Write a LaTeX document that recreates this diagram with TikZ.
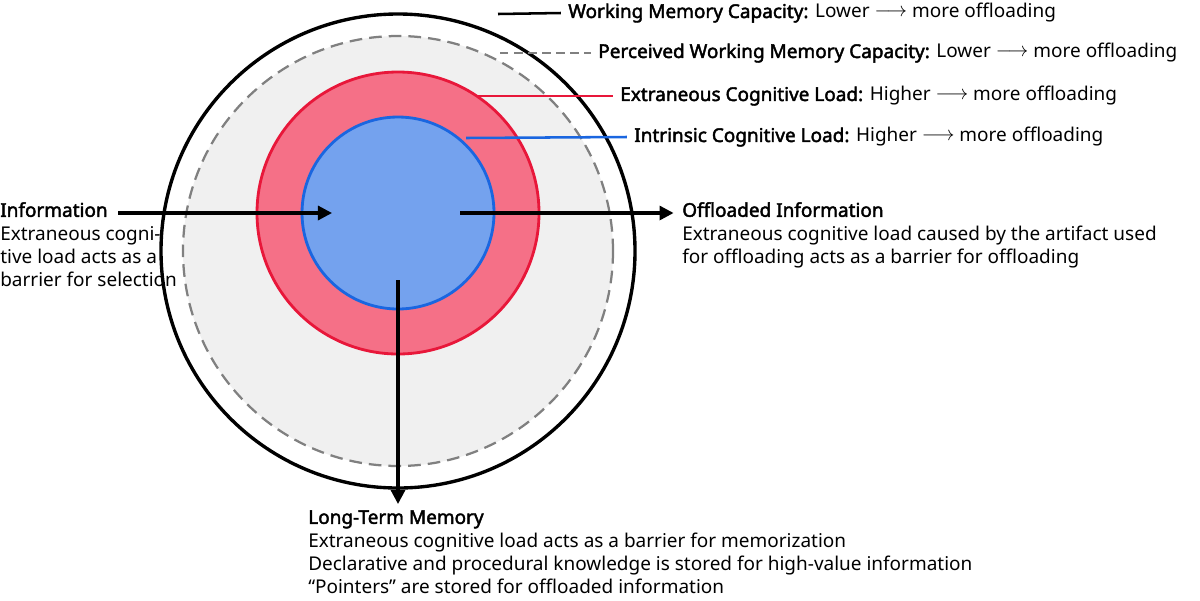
\documentclass[tikz,border=0pt]{standalone}
\usepackage{fontspec}
\setmainfont{Noto Sans}[AutoFakeBold=2.2]
\usetikzlibrary{arrows.meta}
\definecolor{lg}{HTML}{F0F0F0}
\definecolor{rf}{HTML}{F57087}
\definecolor{rs}{HTML}{E8173A}
\definecolor{bf}{HTML}{74A2EE}
\definecolor{bs}{HTML}{1A66E0}
\newcommand{\myarr}{\raisebox{0.1ex}{$\longrightarrow$}}
\begin{document}
\begin{tikzpicture}[x=0.025cm,y=-0.025cm,
  lbl/.style={anchor=west,inner sep=0pt,font=\fontsize{13.5}{16.5}\selectfont},
  blk/.style={anchor=north west,inner sep=0pt,align=left,font=\fontsize{13.5}{16.5}\selectfont},
  arr/.style={line width=2.2pt,-{Triangle[length=10pt,width=10pt]}},
  lead/.style={line width=1.8pt}]
\useasboundingbox (0,0) rectangle (1200,600);
\fill[white] (0,0) rectangle (1200,600);
\draw[line width=2.4pt,fill=white] (398,251) circle (237);
\draw[line width=1.6pt,gray,dash pattern=on 9pt off 5pt,fill=lg] (398,251) circle (215);
\draw[line width=2pt,rs,fill=rf] (398,213) circle (141);
\draw[line width=2pt,bs,fill=bf] (398,213) circle (96);
% leaders
\node[lbl] (wm) at (568,13) {\textbf{Working Memory Capacity:} Lower \myarr{} more offloading};
\node[lbl] (pwm) at (598,53) {\textbf{Perceived Working Memory Capacity:} Lower \myarr{} more offloading};
\node[lbl] (ecl) at (620,96) {\textbf{Extraneous Cognitive Load:} Higher \myarr{} more offloading};
\node[lbl] (icl) at (634,137) {\textbf{Intrinsic Cognitive Load:} Higher \myarr{} more offloading};
\coordinate (c1) at (498,14);
\coordinate (c2) at (500,53);
\coordinate (c3) at (478,96);
\coordinate (c4) at (466,138);
\draw[lead] (c1) -- ([xshift=-5pt]wm.west);
\draw[lead,gray,dash pattern=on 6pt off 4pt] (c2) -- ([xshift=-5pt]pwm.west);
\draw[lead,rs] (c3) -- ([xshift=-5pt]ecl.west);
\draw[lead,bs] (c4) -- ([xshift=-5pt]icl.west);
% Information
\node[blk] (inf) at (0,202) {\textbf{Information}\\Extraneous cogni-\\tive load acts as a\\barrier for selection};
\coordinate (i1) at (118,213);
\coordinate (i2) at (332,213);
\draw[arr] (i1) -- (i2);
% Offloaded
\node[blk] (off) at (682,202) {\textbf{Offloaded Information}\\Extraneous cognitive load caused by the artifact used\\for offloading acts as a barrier for offloading};
\coordinate (o1) at (460,213);
\draw[arr] (o1) -- ([xshift=-6pt]off.north west |- o1);
% LTM
\node[blk] (ltm) at (308,510) {\textbf{Long-Term Memory}\\Extraneous cognitive load acts as a barrier for memorization\\Declarative and procedural knowledge is stored for high-value information\\“Pointers” are stored for offloaded information};
\coordinate (l1) at (398,280);
\coordinate (l2) at (398,504);
\draw[arr] (l1) -- (l2);
\end{tikzpicture}
\end{document}
